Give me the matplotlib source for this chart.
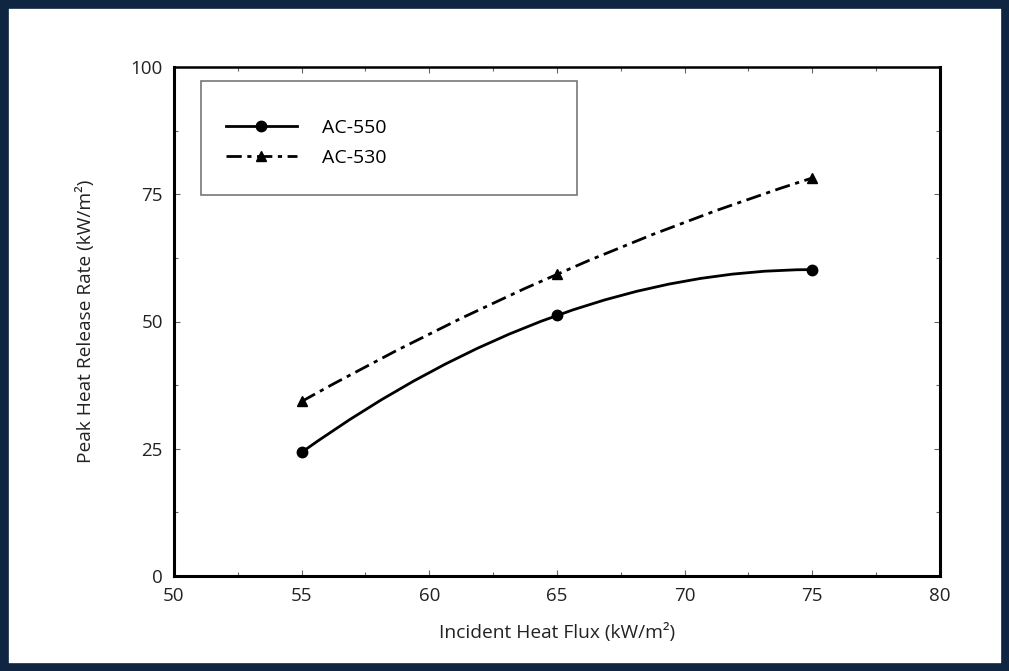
import matplotlib.pyplot as plt
from matplotlib.path import Path
from matplotlib.patches import PathPatch, Rectangle
from matplotlib.lines import Line2D
from matplotlib.ticker import MultipleLocator

plt.rcParams['font.family'] = ['Open Sans', 'DejaVu Sans']

# data
heat_flux = [55, 65, 75]
ac550 = [24.3, 51.2, 60.2]
ac530 = [34.3, 59.3, 78.2]
series_names = ["AC-550", "AC-530"]

W, H = 1009, 671
fig = plt.figure(figsize=(W / 100, H / 100), dpi=100)
ax = fig.add_axes([174 / W, 1 - 576 / H, (940 - 174) / W, (576 - 67) / H])


def smooth_curve(xs, ys, **kw):
    # quadratic bezier through the three measured points (symmetric x)
    cx = 2 * xs[1] - (xs[0] + xs[2]) / 2
    cy = 2 * ys[1] - (ys[0] + ys[2]) / 2
    path = Path([(xs[0], ys[0]), (cx, cy), (xs[2], ys[2])],
                [Path.MOVETO, Path.CURVE3, Path.CURVE3])
    ax.add_patch(PathPatch(path, fill=False, **kw))


dashdot = (0, (5.5, 2, 1.5, 2))
smooth_curve(heat_flux, ac550, edgecolor='black', lw=2)
smooth_curve(heat_flux, ac530, edgecolor='black', lw=2, linestyle=dashdot)
ax.plot(heat_flux, ac550, 'o', color='black', ms=7.5, zorder=3)
ax.plot(heat_flux, ac530, '^', color='black', ms=7, zorder=3)

ax.set_xlim(50, 80)
ax.set_ylim(0, 100)
ax.set_xticks([50, 55, 60, 65, 70, 75, 80])
ax.set_yticks([0, 25, 50, 75, 100])
ax.xaxis.set_minor_locator(MultipleLocator(2.5))
ax.yaxis.set_minor_locator(MultipleLocator(12.5))
ax.tick_params(which='both', direction='in', top=True, right=True,
               length=4, width=0.8, color='#666666', labelsize=13.5, labelcolor='#222222')
ax.tick_params(axis='x', pad=8)
ax.tick_params(axis='y', pad=8)
ax.tick_params(which='minor', length=3)
for s in ax.spines.values():
    s.set_linewidth(2.2)
ax.spines['top'].set_linewidth(1.8)

ax.set_xlabel("Incident Heat Flux (kW/m²)", fontsize=13.8, color='#222222', labelpad=13)
ax.set_ylabel("Peak Heat Release Rate (kW/m²)", fontsize=13.8, color='#222222', labelpad=26)

# legend box
ax.add_patch(Rectangle((201 / W, 1 - 195 / H), (577 - 201) / W, (195 - 81) / H,
                       transform=fig.transFigure, fill=False, edgecolor='#777777', lw=1.2))
handles = [Line2D([], [], color='black', lw=2, marker='o', ms=7.5),
           Line2D([], [], color='black', lw=2, linestyle=dashdot, marker='^', ms=7)]
fig.legend(handles, series_names, loc='upper left', bbox_to_anchor=(226 / W, 1 - 119 / H),
           frameon=False, fontsize=14, handlelength=3.65, handletextpad=1.3,
           labelspacing=0.62, borderaxespad=0, borderpad=0)

# outer navy frame
fig.patches.append(Rectangle((0, 0), 1, 1, transform=fig.transFigure, fill=False,
                             edgecolor='#0f2542', lw=12, zorder=10))

fig.savefig("out.png", dpi=100)
